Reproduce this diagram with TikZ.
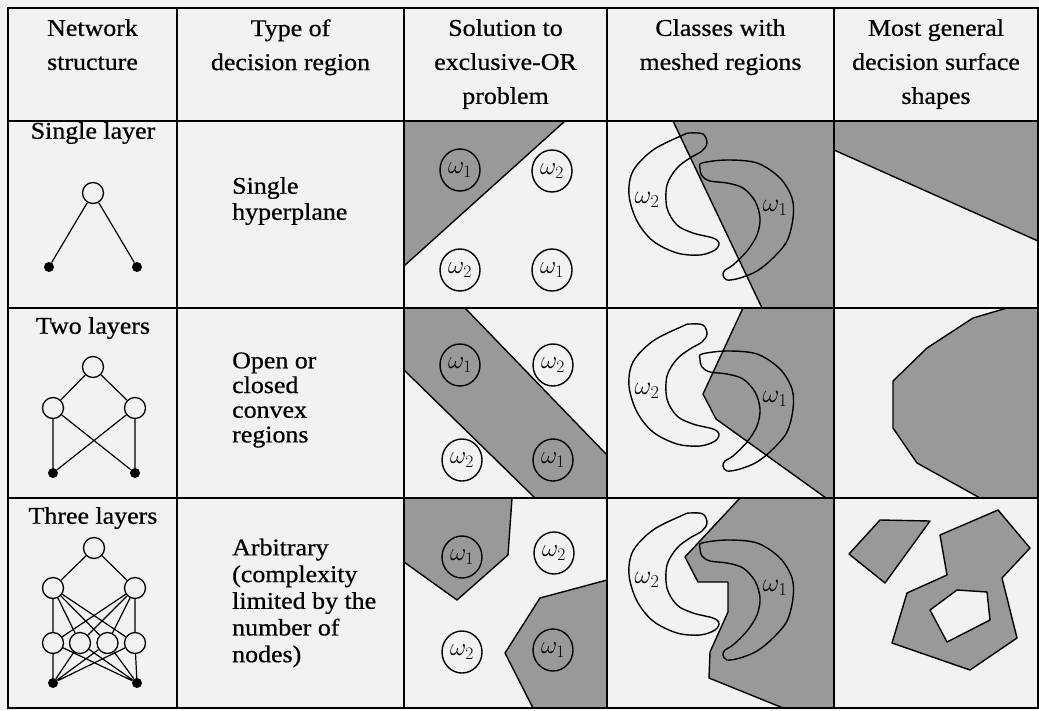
\RequirePackage{fix-cm}
\documentclass[tikz,border=0pt]{standalone}
\usepackage{fontspec}
\setmainfont{Liberation Serif}[FakeStretch=1.08, FakeBold=0.6]
\usetikzlibrary{shapes.geometric}
\definecolor{paper}{gray}{0.95}
\definecolor{shade}{gray}{0.6}
\tikzset{tableline/.style={line width=2.2pt}}
\tikzset{region/.style={fill=shade, draw=black, line width=1.4pt, line join=round}}
\tikzset{outline/.style={draw=black, line width=1.4pt}}
\tikzset{unit/.style={circle, draw, line width=1.3pt, fill=paper, minimum size=21pt, inner sep=0pt}}
\tikzset{inlet/.style={circle, fill=black, minimum size=10pt, inner sep=0pt}}
\tikzset{wire/.style={line width=1.2pt}}
\tikzset{cls/.style={ellipse, draw, line width=1.4pt, minimum width=40pt, minimum height=42pt, inner sep=0pt, font=\fontsize{25}{26}\selectfont}}
\tikzset{head/.style={align=center, anchor=north, inner sep=0pt, font=\fontsize{24}{34}\selectfont}}
\tikzset{rowtext/.style={align=left, anchor=west, inner sep=0pt, font=\fontsize{24}{26}\selectfont}}
\newcommand{\meshpair}[2]{%
\begin{scope}[shift={(0,#1)}]
\draw[outline] plot[smooth cycle, tension=0.55] coordinates {(683,135) (653,150) (633,171) (629,195) (637,221) (653,241) (677,253) (700,255) (715,250) (719,243) (713,238) (693,233) (677,225) (667,208) (667,185) (677,168) (690,158) (702,151) (707,143) (703,134) (690,133)};
\draw[outline] plot[smooth cycle, tension=0.55] coordinates {(702,163) (727,160) (757,163) (780,178) (792,198) (793,218) (787,241) (773,258) (757,271) (740,278) (727,280) (723,275) (725,270) (733,265) (747,251) (757,235) (760,218) (755,201) (743,188) (727,183) (710,181) (702,176) (700,168)};
\node[font=\fontsize{26}{26}\selectfont] (#2w2) at (647,200) {$\omega_2$};
\node[font=\fontsize{26}{26}\selectfont] (#2w1) at (775,208) {$\omega_1$};
\end{scope}}

\begin{document}
\begin{tikzpicture}[x=1pt, y=-1pt, font=\fontsize{24}{26}\selectfont]
\useasboundingbox (0,0) rectangle (1039,710);
\fill[paper] (0,0) rectangle (1039,710);

\filldraw[region] (404,121) -- (565,121) -- (404,266) -- cycle;
\filldraw[region] (404,308) -- (465,308) -- (607,455) -- (607,498) -- (535,498) -- (404,370) -- cycle;
\filldraw[region] (404,498) -- (512,498) -- (508,555) -- (457,600) -- (404,562) -- cycle;
\filldraw[region] (607,580) -- (540,598) -- (505,653) -- (533,708) -- (607,708) -- cycle;

\filldraw[region] (673,121) -- (834,121) -- (834,308) -- (762,308) -- cycle;
\filldraw[region] (743,308) -- (834,308) -- (834,498) -- (826,498) -- (716,419) -- (703,394) -- cycle;
\filldraw[region] (740,498) -- (834,498) -- (834,708) -- (783,708) -- (709,678) -- (710,652) -- (728,612) -- (728,582) -- (698,582) -- (685,557) -- cycle;

\filldraw[region] (834,121) -- (1038,121) -- (1038,241) -- (834,150) -- cycle;
\filldraw[region] (1007,308) -- (1038,308) -- (1038,498) -- (980,498) -- (917,463) -- (893,428) -- (893,381) -- (927,348) -- (973,318) -- cycle;
\filldraw[region] (880,520) -- (930,521) -- (885,583) -- (849,554) -- cycle;
\filldraw[region, even odd rule] (998,510) -- (1030,548) -- (1002,578) -- (1017,638) -- (970,670) -- (892,643) -- (907,593) -- (947,575) -- (940,535) -- cycle
  (957,590) -- (987,592) -- (990,620) -- (947,642) -- (930,610) -- cycle;

\node[cls] (xa1) at (460,170) {$\omega_1$};
\node[cls] (xa2) at (552,171) {$\omega_2$};
\node[cls] (xa3) at (460,270) {$\omega_2$};
\node[cls] (xa4) at (552,270) {$\omega_1$};
\node[cls] (xb1) at (460,365) {$\omega_1$};
\node[cls] (xb2) at (553,365) {$\omega_2$};
\node[cls] (xb3) at (462,460) {$\omega_2$};
\node[cls] (xb4) at (553,460) {$\omega_1$};
\node[cls] (xc1) at (462,557) {$\omega_1$};
\node[cls] (xc2) at (554,553) {$\omega_2$};
\node[cls] (xc3) at (462,652) {$\omega_2$};
\node[cls] (xc4) at (553,650) {$\omega_1$};

\meshpair{0}{ma}
\meshpair{191}{mb}
\meshpair{380}{mc}

\draw[tableline] (8,8) rectangle (1038,708);
\draw[tableline] (8,121) -- (1038,121) (8,308) -- (1038,308) (8,498) -- (1038,498);
\draw[tableline] (177,8) -- (177,708) (404,8) -- (404,708) (607,8) -- (607,708) (834,8) -- (834,708);

\node[head] (hnet) at (92.5,19) {Network\\structure};
\node[head] (htype) at (290.5,19) {Type of\\decision region};
\node[head] (hxor) at (505.5,19) {Solution to\\exclusive-OR\\problem};
\node[head] (hmesh) at (720.5,19) {Classes with\\meshed regions};
\node[head] (hsurf) at (936,19) {Most general\\decision surface\\shapes};

\node (lone) at (93,133) {Single layer};
\node (ltwo) at (93,328) {Two layers};
\node (lthree) at (93,518) {Three layers};

\node[rowtext] (tone) at (232,201) {Single\\hyperplane};
\node[rowtext, font=\fontsize{24}{24.7}\selectfont] (ttwo) at (232,400) {Open or\\closed\\convex\\regions};
\node[rowtext, font=\fontsize{24}{26.7}\selectfont] (tthree) at (232,603) {Arbitrary\\(complexity\\limited by the\\number of\\nodes)};

\node[unit] (sO) at (93,193) {};
\node[inlet] (sA) at (49,267) {};
\node[inlet] (sB) at (137,267) {};
\draw[wire] (sO) -- (sA) (sO) -- (sB);

\node[unit] (tO) at (93,367) {};
\node[unit] (tH1) at (53,408) {};
\node[unit] (tH2) at (135,408) {};
\node[inlet] (tA) at (53,473) {};
\node[inlet] (tB) at (135,473) {};
\draw[wire] (tO) -- (tH1) (tO) -- (tH2);
\draw[wire] (tH1) -- (tA) (tH1) -- (tB) (tH2) -- (tA) (tH2) -- (tB);

\node[unit] (rO) at (94,548) {};
\node[unit] (rH1) at (53,588) {};
\node[unit] (rH2) at (135,588) {};
\node[unit] (rK1) at (53,643) {};
\node[unit] (rK2) at (80,643) {};
\node[unit] (rK3) at (107.5,643) {};
\node[unit] (rK4) at (135,643) {};
\node[inlet] (rA) at (53,683) {};
\node[inlet] (rB) at (137,683) {};
\draw[wire] (rO) -- (rH1) (rO) -- (rH2);
\draw[wire] (rH1) -- (rK1) (rH1) -- (rK2) (rH1) -- (rK3) (rH1) -- (rK4);
\draw[wire] (rH2) -- (rK1) (rH2) -- (rK2) (rH2) -- (rK3) (rH2) -- (rK4);
\draw[wire] (rK1) -- (rA) (rK2) -- (rA) (rK3) -- (rA) (rK4) -- (rA);
\draw[wire] (rK1) -- (rB) (rK2) -- (rB) (rK3) -- (rB) (rK4) -- (rB);
\end{tikzpicture}
\end{document}
